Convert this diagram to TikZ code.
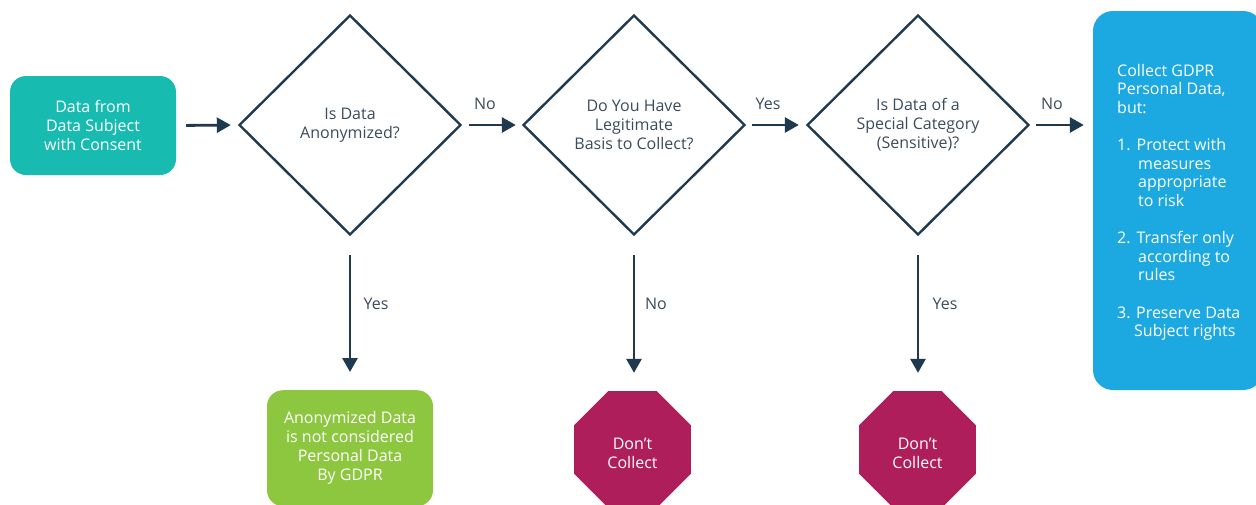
\documentclass[tikz,border=0pt]{standalone}
\usepackage{fontspec}
\setmainfont{Open Sans}
\usetikzlibrary{arrows.meta,shapes.geometric}
\definecolor{lineC}{HTML}{1F3A4F}
\definecolor{txtC}{HTML}{3A4B5C}
\definecolor{tealC}{HTML}{17BBB0}
\definecolor{greenC}{HTML}{8DC63F}
\definecolor{magC}{HTML}{AD1E5A}
\definecolor{blueC}{HTML}{1CA8E0}
\begin{document}
\begin{tikzpicture}[x=1pt,y=-1pt,
  every node/.style={font=\fontsize{16}{19}\selectfont},
  box/.style={rounded corners=16pt, inner sep=0pt, text=white, align=center},
  dec/.style={diamond, draw=lineC, line width=2.4pt, inner sep=0pt, minimum width=222pt, minimum height=220pt, text=txtC, align=center},
  stop/.style={regular polygon, regular polygon sides=8, fill=magC, inner sep=0pt, minimum size=126.6pt},
  conn/.style={draw=lineC, line width=2.8pt, -{Triangle[length=14pt,width=15pt]}},
  lbl/.style={text=txtC, inner sep=0pt}
]
\useasboundingbox (0,0) rectangle (1256,504);
\clip (0,0) rectangle (1256,504);
\node[box, fill=tealC, minimum width=166pt, minimum height=99pt] (src) at (93,125.5) {Data from\\Data Subject\\with Consent};
\node[dec] (d1) at (350,125) {Is Data\\Anonymized?};
\node[dec] (d2) at (634,125) {Do You Have\\Legitimate\\Basis to Collect?};
\node[dec] (d3) at (918,125) {Is Data of a\\Special Category\\(Sensitive)?};
\node[box, fill=blueC, minimum width=170pt, minimum height=379pt, rounded corners=20pt] (res) at (1178,200.5) {};
\node[text=white, align=left, anchor=north west, inner sep=0pt, font=\fontsize{16}{18.6}\selectfont] (restxt) at (1117,64) {Collect GDPR\\Personal Data,\\but:\\[18.6pt]
1.\hspace{6pt}Protect with\\\hspace*{21pt}measures\\\hspace*{21pt}appropriate\\\hspace*{21pt}to risk\\[18.6pt]
2.\hspace{6pt}Transfer only\\\hspace*{21pt}according to\\\hspace*{21pt}rules\\[18.6pt]
3. Preserve Data\\\hspace*{17pt}Subject rights};
\node[box, fill=greenC, minimum width=166pt, minimum height=116pt, anchor=north] (anon) at (350,390) {};
\node[text=white, align=center, inner sep=0pt] (anontxt) at (350,448) {Anonymized Data\\is not considered\\Personal Data\\By GDPR};
\node[stop] (s1) at (632.5,449.5) {};
\node[text=white, align=center, inner sep=0pt] at (632.5,453) {Don’t\\Collect};
\node[stop] (s2) at (917.5,449.5) {};
\node[text=white, align=center, inner sep=0pt] at (917.5,453) {Don’t\\Collect};
\draw[conn, shorten <=10pt, shorten >=7pt] (src.east) -- (d1.west);
\draw[conn, shorten <=7pt, shorten >=6pt] (d1.east) -- (d2.west);
\draw[conn, shorten <=6pt, shorten >=7pt] (d2.east) -- (d3.west);
\draw[conn, shorten <=6pt, shorten >=9pt] (d3.east) -- (d3.east -| res.west);
\draw[conn, shorten <=19pt, shorten >=18pt] (d1.south) -- (anon.north);
\draw[conn, shorten <=19pt, shorten >=18pt] (d2.south) -- (d2.south |- s1.north);
\draw[conn, shorten <=19pt, shorten >=18pt] (d3.south) -- (d3.south |- s2.north);
\node[lbl] at (485,104) {No};
\node[lbl] at (768,104) {Yes};
\node[lbl] at (1052,104) {No};
\node[lbl] at (376,304) {Yes};
\node[lbl] at (656,304) {No};
\node[lbl] at (945,304) {Yes};
\end{tikzpicture}
\end{document}
